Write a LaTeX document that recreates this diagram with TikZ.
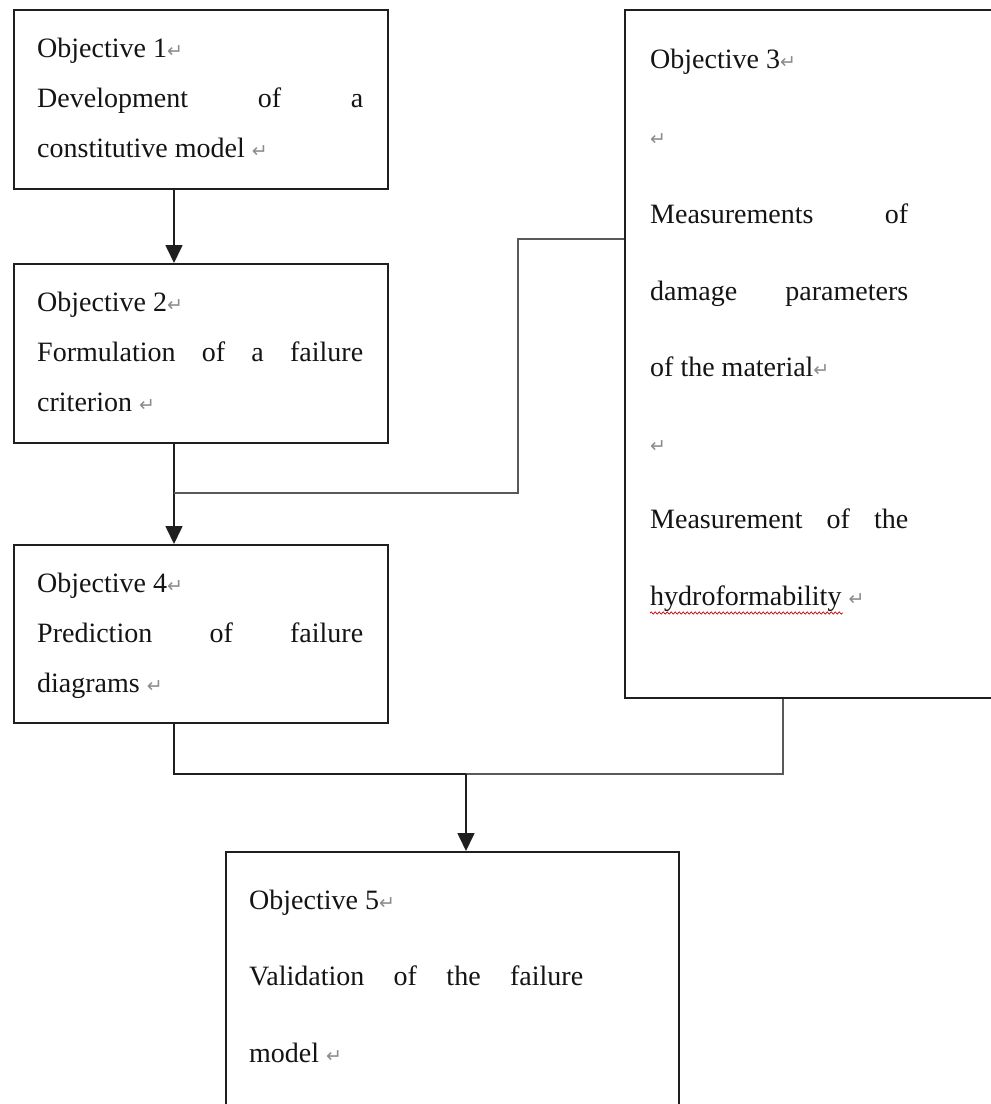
\documentclass[tikz,border=0pt]{standalone}
\usepackage{fontspec}
\setmainfont{Liberation Serif}
\newfontfamily\symfont{DejaVu Sans}
\usetikzlibrary{arrows.meta,calc,decorations.pathmorphing}
\newcommand\pmark{{\symfont\color{black!45}\fontsize{19}{19}\selectfont ↵}}
\begin{document}
\begin{tikzpicture}[x=1pt,y=-1pt,
  obox/.style={draw=black!88,line width=1.6pt,rectangle,inner sep=0pt,anchor=north west,fill=white},
  txt/.style={anchor=base west,inner sep=0pt,text=black!92,font=\fontsize{28}{30}\selectfont},
  arr/.style={draw=black!88,line width=1.6pt,-{Triangle[width=17pt,length=18pt]}},
  conn/.style={draw=black!88,line width=1.6pt},
  gconn/.style={draw=black!65,line width=2pt},
  spell/.style={draw=red!80!black,line width=0.7pt,decorate,decoration={snake,amplitude=1.1pt,segment length=4pt}}]
\useasboundingbox (0,0) rectangle (991,1104);
\clip (0,0) rectangle (991,1104);
\fill[white] (0,0) rectangle (991,1104);

% boxes
\node[obox,minimum width=374pt,minimum height=179pt] (b1) at (13,9) {};
\node[obox,minimum width=374pt,minimum height=179pt] (b2) at (13,263) {};
\node[obox,minimum width=374pt,minimum height=178pt] (b4) at (13,544) {};
\node[obox,minimum width=372pt,minimum height=688pt] (b3) at (624,9) {};
\node[obox,minimum width=453pt,minimum height=270pt] (b5) at (225,851) {};

% box 1
\node[txt] (t11) at (37,57) {Objective 1\pmark};
\node[txt] (t12) at (37,107) {\hbox to 326pt{Development\hfill of\hfill a}};
\node[txt] (t13) at (37,157) {constitutive model \pmark};
% box 2
\node[txt] (t21) at (37,311) {Objective 2\pmark};
\node[txt] (t22) at (37,361) {\hbox to 326pt{Formulation\hfill of\hfill a\hfill failure}};
\node[txt] (t23) at (37,411) {criterion \pmark};
% box 4
\node[txt] (t41) at (37,592) {Objective 4\pmark};
\node[txt] (t42) at (37,642) {\hbox to 326pt{Prediction\hfill of\hfill failure}};
\node[txt] (t43) at (37,692) {diagrams \pmark};
% box 3
\node[txt] (t31) at (650,68) {Objective 3\pmark};
\node[txt] (t32) at (650,145) {\pmark};
\node[txt] (t33) at (650,223) {\hbox to 258pt{Measurements\hfill of}};
\node[txt] (t34) at (650,300) {\hbox to 258pt{damage\hfill parameters}};
\node[txt] (t35) at (650,376) {of the material\pmark};
\node[txt] (t36) at (650,452) {\pmark};
\node[txt] (t37) at (650,528) {\hbox to 258pt{Measurement\hfill of\hfill the}};
\node[txt] (t38) at (650,605) {hydroformability \pmark};
\draw[spell] (650,613) -- (843,613);
% box 5
\node[txt] (t51) at (249,909) {Objective 5\pmark};
\node[txt] (t52) at (249,985) {\hbox to 334pt{Validation\hfill of\hfill the\hfill failure}};
\node[txt] (t53) at (249,1062) {model \pmark};

% connector coordinates
\coordinate (xl) at (174,0);
\coordinate (ja) at (518,239);
\coordinate (jb) at (518,493);
\coordinate (jc) at (174,493);
\coordinate (jd) at (174,774);
\coordinate (je) at (466,774);
\coordinate (jf) at (783,774);

% connectors
\draw[arr] (b1.south -| xl) -- (b2.north -| xl);
\draw[arr] (b2.south -| xl) -- (b4.north -| xl);
\draw[gconn] (b3.west |- ja) -- (ja) -- (jb) -- (jc);
\draw[conn] (b4.south -| xl) -- (jd) -- (je);
\draw[gconn] (je) -- (jf) -- (b3.south -| jf);
\draw[arr] (je) -- (b5.north -| je);
\end{tikzpicture}
\end{document}
